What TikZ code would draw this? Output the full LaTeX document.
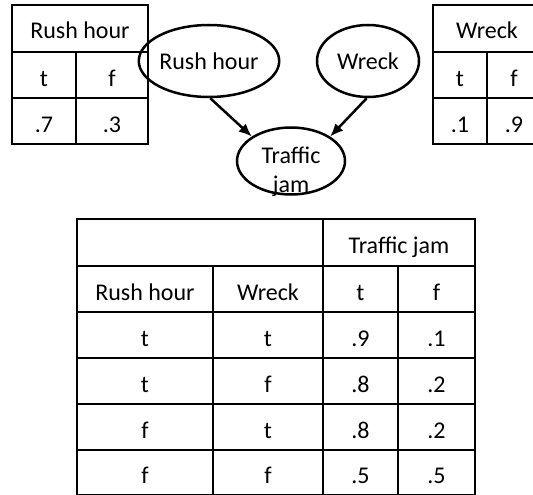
\documentclass[tikz,border=0pt]{standalone}
\usepackage{fontspec}
\setmainfont{Carlito}
\usetikzlibrary{shapes.geometric,arrows.meta}
\tikzset{
  grid/.style={line width=2pt, line cap=rect},
  cell/.style={anchor=base, inner sep=0pt, font=\fontsize{24}{29}\selectfont},
  bubble/.style={draw, ellipse, line width=2.5pt, inner sep=0pt, font=\fontsize{24}{29}\selectfont},
  edge/.style={line width=2.5pt, -{Latex[length=13pt,width=11pt]}}
}
\begin{document}
\begin{tikzpicture}[x=1pt,y=-1pt]
\useasboundingbox (0,0) rectangle (533,495);
\clip (0,0) rectangle (533,495);
\fill[white] (0,0) rectangle (533,495);
% left table
\draw[grid] (12,5) rectangle (148,144);
\draw[grid] (12,52) -- (148,52) (12,98) -- (148,98) (76,52) -- (76,144);
\node[cell] (lrh) at (80,39) {Rush hour};
\node[cell] (lt) at (44,86) {t};
\node[cell] (lf) at (112,86) {f};
\node[cell] (lp1) at (44,132) {.7};
\node[cell] (lp2) at (112,132) {.3};
% right table
\draw[grid] (433,5) rectangle (541,144);
\draw[grid] (433,52) -- (541,52) (433,98) -- (541,98) (487,52) -- (487,144);
\node[cell] (rw) at (487,39) {Wreck};
\node[cell] (rt) at (460,86) {t};
\node[cell] (rf) at (514,86) {f};
\node[cell] (rp1) at (460,132) {.1};
\node[cell] (rp2) at (514,132) {.9};
% network
\node[bubble, minimum width=108pt, minimum height=72pt] (rush) at (209,61) {Rush hour};
\node[bubble, minimum width=102pt, minimum height=72pt] (wreck) at (368,61) {Wreck};
\node[bubble, minimum width=108pt, minimum height=67pt] (traffic) at (291,161) {};
\node[inner sep=0pt, align=center, font=\fontsize{24}{29}\selectfont] (trafficlbl) at (291,172) {Traffic\\jam};
\draw[edge] (rush.-88) -- (traffic.148);
\draw[edge] (wreck.-92) -- (traffic.32);
% bottom table
\draw[grid] (77,219) -- (475,219) -- (475,495) (77,219) -- (77,495) (77,495) -- (475,495);
\foreach \y in {266,312,358,404,450} \draw[grid] (77,\y) -- (475,\y);
\draw[grid] (323,219) -- (323,495);
\draw[grid] (213,266) -- (213,495) (398,266) -- (398,495);
\node[cell] (htj) at (399,253) {Traffic jam};
\node[cell] (hrh) at (145,300) {Rush hour};
\node[cell] (hw) at (268,300) {Wreck};
\node[cell] (ht) at (360.5,300) {t};
\node[cell] (hf) at (436.5,300) {f};
\node[cell] (a1) at (145,346) {t};
\node[cell] (b1) at (268,346) {t};
\node[cell] (c1) at (360.5,346) {.9};
\node[cell] (d1) at (436.5,346) {.1};
\node[cell] (a2) at (145,392) {t};
\node[cell] (b2) at (268,392) {f};
\node[cell] (c2) at (360.5,392) {.8};
\node[cell] (d2) at (436.5,392) {.2};
\node[cell] (a3) at (145,438) {f};
\node[cell] (b3) at (268,438) {t};
\node[cell] (c3) at (360.5,438) {.8};
\node[cell] (d3) at (436.5,438) {.2};
\node[cell] (a4) at (145,483) {f};
\node[cell] (b4) at (268,483) {f};
\node[cell] (c4) at (360.5,483) {.5};
\node[cell] (d4) at (436.5,483) {.5};
\end{tikzpicture}
\end{document}
